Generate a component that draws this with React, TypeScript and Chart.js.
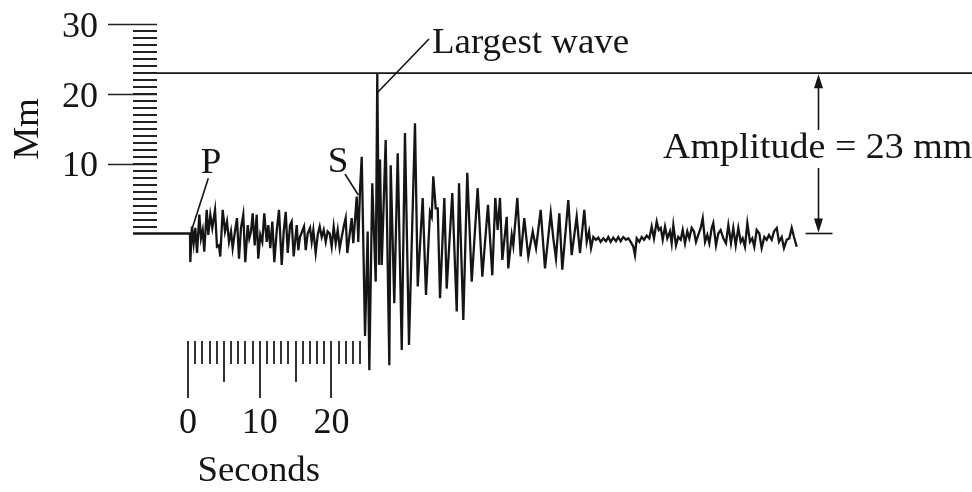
import React, { useEffect, useRef } from "react";
import { Chart, registerables } from "chart.js";

Chart.register(...registerables);

// Seismogram trace: time in seconds, pen displacement in mm
const seismoTime = [
  -7.67, 0.28, 0.32, 0.56, 0.79, 1.02, 1.26, 1.58, 1.81, 2.05, 2.27, 2.61, 2.83, 3.11, 3.39, 3.77,
  4.04, 4.32, 4.5, 4.84, 5.16, 5.44, 5.72, 6.0, 6.23, 6.55, 6.83, 7.11, 7.39, 7.71, 7.99, 8.33,
  8.55, 8.79, 9.02, 9.3, 9.58, 9.8, 10.08, 10.36, 10.64, 10.98, 11.2, 11.48, 11.76, 12.04, 12.37,
  12.69, 13.07, 13.35, 13.63, 13.91, 14.23, 14.46, 14.74, 15.16, 15.38, 15.62, 16.18, 16.42, 16.69,
  17.02, 17.25, 17.48, 17.81, 18.09, 18.37, 18.65, 18.93, 19.21, 19.48, 19.76, 20.04, 20.32, 20.6,
  20.88, 21.16, 21.44, 21.72, 21.99, 22.22, 22.5, 22.83, 23.05, 23.29, 23.53, 23.75, 23.99, 24.23,
  24.69, 25.06, 25.29, 25.7, 26.18, 26.4, 26.64, 26.78, 27.02, 27.57, 28.08, 28.27, 28.77, 29.25,
  29.81, 30.26, 30.82, 31.66, 32.04, 32.73, 33.19, 33.75, 33.99, 34.21, 34.55, 34.83, 35.15, 35.75,
  36.08, 36.86, 37.48, 37.8, 38.4, 38.95, 39.57, 40.4, 41.05, 41.84, 42.44, 42.86, 43.19, 43.51,
  43.84, 44.45, 44.67, 45.15, 45.37, 45.93, 46.4, 46.9, 47.46, 48.08, 48.54, 49.19, 49.79, 50.59,
  50.95, 51.32, 51.79, 52.2, 53.04, 53.51, 54.21, 54.67, 55.27, 55.61, 55.93, 56.21, 56.53, 56.9,
  57.22, 57.56, 57.92, 58.3, 58.62, 58.95, 59.32, 59.69, 60.01, 60.35, 60.71, 61.09, 61.41, 61.74,
  62.11, 62.34, 62.58, 62.94, 63.28, 63.6, 63.97, 64.34, 64.67, 64.99, 65.37, 65.65, 65.93, 66.21,
  66.53, 66.85, 67.22, 67.46, 67.69, 68.06, 68.38, 68.72, 69.0, 69.32, 69.64, 69.92, 70.25, 70.57,
  70.85, 71.17, 71.51, 71.79, 72.11, 72.43, 72.71, 73.04, 73.26, 73.64, 73.96, 74.29, 74.66, 75.03,
  75.36, 75.73, 76.05, 76.39, 76.75, 77.09, 77.36, 77.68, 78.01, 78.38, 78.7, 78.98, 79.32, 79.68,
  80.01, 80.38, 80.71, 81.03, 81.41, 81.73, 82.11, 82.43, 82.8, 83.12, 83.5, 83.86, 84.2, 84.52, 84.9,
];

const seismoAmp = [
  0, 0, -4.1, 1.0, -1.4, 0.8, -2.8, 2.7, -0.7, 0.5, -2.6, 3.4, -0.2, 2.7, 0.8, 3.4,
  -1.9, -1.7, -3.3, 3.4, 0.3, 1.7, -1.2, 0.3, -2.1, 0.3, 2.2, -3.6, 0.8, 2.7, -4.1, 1.2,
  -0.7, 0.3, 2.9, -1.7, 2.7, -3.6, -0.2, -1.2, 2.9, -1.2, 1.2, -2.1, 1.7, -4.1, 0.3,
  3.4, -4.5, 0.3, 3.1, -2.8, 1.2, 1.7, -3.3, 1.2, -2.4, -0.5, 1.0, -2.4, 0.0,
  0.8, -1.2, 0.5, -2.8, -0.2, 1.0, -0.5, 0.5, -1.2, 0.3, 0.0, -1.9, 1.0, -1.4,
  0.5, -2.1, -0.5, 1.0, 2.2, -2.8, -0.5, 2.2, -1.4, 1.9, 5.3, -1.2, 6.2, 11.0,
  -14.7, 0.3, -19.6, 7.2, -6.9, 23.0, -4.5, 10.6, -4.5, 13.4, -18.9, 9.8, -10.0, 11.5,
  -16.7, 14.4, -16.0, 15.8, -7.6, 5.1, -8.8, 3.1, 2.4, 8.2, 3.6, 3.6, -9.3, 5.1,
  -7.9, 5.8, -11.2, 7.2, -12.4, 8.7, -6.9, 6.5, -6.2, 4.1, -6.0, 5.1, 0.5, 5.1,
  -3.8, 2.4, -5.0, -0.2, -1.7, 5.1, -3.3, 2.2, -3.3, 0.3, -2.1, 3.4, -5.0, 2.9,
  -0.7, -3.6, 2.9, -5.2, 4.8, -3.1, 2.4, -2.8, 3.4, -1.2, 0.3, -2.1, -0.5, -0.9,
  -0.6, -1.2, -0.7, -1.1, -0.5, -1.2, -0.6, -1.1, -0.5, -1.1, -0.5, -0.9, -0.7, -1.2,
  -1.9, -3.1, -0.7, -1.2, -0.5, -0.9, -0.3, -0.7, 1.0, -0.7, 1.7, 0.5, 0.8, -0.9,
  1.0, -0.7, 0.3, -1.4, 1.2, -1.7, -0.5, -0.9, 0.5, -1.4, 0.3, -0.7, 0.8, 0.3,
  -1.2, -0.2, 0.8, 2.2, -1.2, -0.2, -1.4, 0.8, 1.5, -1.7, 0.0, 0.5, -0.7, -1.4,
  1.2, -1.4, 0.8, -1.7, 0.8, -1.2, -0.7, -1.9, 1.5, -1.2, -0.7, -1.9, 0.5, 0.0,
  -2.1, -0.5, -0.9, -0.2, -0.9, 0.3, 0.8, -1.2, -0.5, -2.1, -0.9, -0.7, 0.8, -0.5, -1.9,
];

// Rulers and annotations
const mmTickLabels = [10, 20, 30];
const mmRulerMax = 30;
const secondTickLabels = [0, 10, 20];
const secondRulerMax = 24;
const amplitudeMm = 23;
const largestWaveTime = 26.4;
const amplitudeArrowTime = 87.9;

const FONT = '35px "Liberation Serif", "Times New Roman", serif';
const INK = "#151515";

const overlayPlugin = {
  id: "seismoOverlay",
  afterDatasetsDraw(chart: any) {
    const ctx: CanvasRenderingContext2D = chart.ctx;
    const xs = chart.scales.x;
    const ys = chart.scales.y;
    const px = (t: number) => xs.getPixelForValue(t);
    const py = (v: number) => ys.getPixelForValue(v);
    const x0 = px(0);
    const y0 = py(0);
    const line = (a: number, b: number, c: number, d: number) => {
      ctx.beginPath();
      ctx.moveTo(a, b);
      ctx.lineTo(c, d);
      ctx.stroke();
    };
    const text = (s: string, x: number, y: number, align: CanvasTextAlign, stretch = 1.06) => {
      ctx.save();
      ctx.translate(x, y);
      ctx.scale(stretch, 1);
      ctx.textAlign = align;
      ctx.fillText(s, 0, 0);
      ctx.restore();
    };
    ctx.save();
    ctx.lineCap = "butt";

    // vertical mm ruler
    ctx.strokeStyle = "#222";
    ctx.lineWidth = 2;
    for (let m = 1; m < mmRulerMax; m++) {
      const y = Math.round(py(m));
      line(x0 - 55, y, x0 - 31, y);
    }
    ctx.lineWidth = 1.7;
    for (const v of mmTickLabels) {
      const y = Math.round(py(v)) + 0.5;
      line(x0 - 80, y, x0 - 31, y);
    }

    // amplitude reference line
    ctx.strokeStyle = INK;
    ctx.lineWidth = 1.7;
    const yAmp = py(amplitudeMm);
    line(x0 - 31, yAmp, chart.width, yAmp);

    // seconds ruler
    ctx.strokeStyle = "#333";
    ctx.lineWidth = 2;
    for (let s = 0; s <= secondRulerMax; s++) {
      const x = Math.round(px(s));
      const len = s % 10 === 0 ? 164.5 : s % 5 === 0 ? 148.5 : 130.5;
      line(x, y0 + 107.5, x, y0 + len);
    }

    // text
    ctx.fillStyle = INK;
    ctx.font = FONT;
    ctx.textBaseline = "alphabetic";
    for (const v of mmTickLabels) text(String(v), x0 - 90, py(v) + 12.5, "right", 1.03);
    for (const s of secondTickLabels) text(String(s), px(s), y0 + 199.5, "center", 1.03);
    text("Seconds", px(10) - 1, y0 + 247.5, "center", 1.05);

    ctx.save();
    ctx.translate(x0 - 150, py(15));
    ctx.rotate(-Math.PI / 2);
    ctx.scale(1.06, 1);
    ctx.textAlign = "center";
    ctx.fillText("Mm", 0, 0);
    ctx.restore();

    // P and S labels with leaders
    text("P", x0 + 23, y0 - 60.5, "center");
    text("S", x0 + 150, y0 - 61.5, "center");
    ctx.strokeStyle = INK;
    ctx.lineWidth = 1.6;
    line(x0 + 20.3, y0 - 55.2, x0 + 3.2, y0 - 2);
    line(x0 + 157, y0 - 59.5, x0 + 170.3, y0 - 38.5);

    // largest wave label
    text("Largest wave", 432, 53, "left", 1.055);
    line(px(largestWaveTime), py(20.2), 429, 39);

    // amplitude arrow
    const xa = Math.round(px(amplitudeArrowTime)) + 0.5;
    ctx.lineWidth = 1.6;
    line(xa, yAmp + 10, xa, 130);
    line(xa, 168, xa, y0 - 10);
    line(xa - 13, y0, xa + 14, y0);
    ctx.beginPath();
    ctx.moveTo(xa, yAmp + 1);
    ctx.lineTo(xa - 4.5, yAmp + 15);
    ctx.lineTo(xa + 4.5, yAmp + 15);
    ctx.closePath();
    ctx.fill();
    ctx.beginPath();
    ctx.moveTo(xa, y0 - 1);
    ctx.lineTo(xa - 4.5, y0 - 15);
    ctx.lineTo(xa + 4.5, y0 - 15);
    ctx.closePath();
    ctx.fill();
    text("Amplitude = 23 mm", 663, 158, "left", 1.085);

    ctx.restore();
  },
};

export default function App() {
  const canvasRef = useRef<HTMLCanvasElement | null>(null);

  useEffect(() => {
    const canvas = canvasRef.current;
    if (!canvas) return;
    const pxPerSec = 7.17;
    const pxPerMm = 6.97;
    const W = 972;
    const H = 492;
    const xMin = -188 / pxPerSec;
    const yMax = 233.5 / pxPerMm;
    const chart = new Chart(canvas, {
      type: "line",
      data: {
        datasets: [
          {
            label: "Seismogram",
            data: seismoTime.map((t, i) => ({ x: t, y: seismoAmp[i] })),
            borderColor: INK,
            borderWidth: 2.3,
            pointRadius: 0,
            tension: 0,
            fill: false,
            clip: false as any,
            borderJoinStyle: "miter",
          },
        ],
      },
      options: {
        responsive: false,
        animation: false,
        devicePixelRatio: 1,
        layout: { padding: 0 },
        plugins: { legend: { display: false }, tooltip: { enabled: false }, title: { display: false } },
        events: [],
        scales: {
          x: { type: "linear", display: false, min: xMin, max: xMin + W / pxPerSec },
          y: { type: "linear", display: false, max: yMax, min: yMax - H / pxPerMm },
        },
      },
      plugins: [overlayPlugin],
    });
    return () => chart.destroy();
  }, []);

  return (
    <div style={{ position: "absolute", left: 0, top: 0, width: 972, height: 492, background: "#fff" }}>
      <canvas ref={canvasRef} width={972} height={492} style={{ display: "block" }} />
    </div>
  );
}
